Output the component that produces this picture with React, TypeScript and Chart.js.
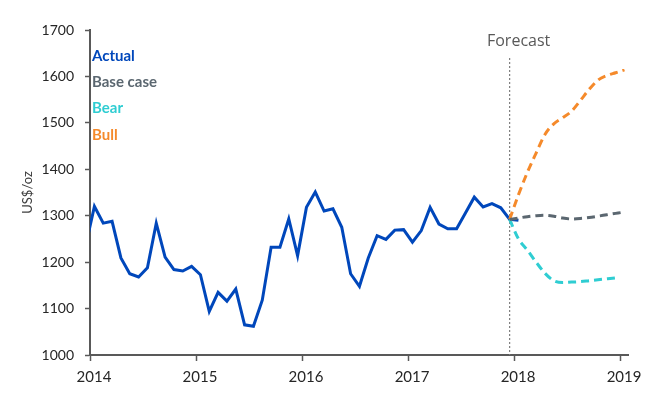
import { useEffect, useRef } from "react";
import { Chart, registerables } from "chart.js";

Chart.register(...registerables);

// Monthly gold price, plotted at mid-month. Series begins mid-December 2013.
const actualStart = 2013 + 11.5 / 12;
const actualValues = [
  1234,
  1320, 1284, 1288, 1209, 1175, 1168, 1188, 1284, 1211, 1184, 1181, 1191,
  1173, 1094, 1135, 1116, 1142, 1065, 1062, 1118, 1232, 1232, 1293, 1214,
  1318, 1351, 1310, 1315, 1275, 1175, 1148, 1209, 1257, 1249, 1269, 1270,
  1243, 1268, 1318, 1282, 1272, 1272, 1306, 1340, 1319, 1326, 1317, 1292,
  1290,
];

// Scenario paths start from the December 2017 value.
const forecastStart = 2017 + 11.5 / 12;
const baseCaseValues = [1292, 1295, 1298, 1300, 1301, 1299, 1295, 1293, 1294, 1296, 1299, 1302, 1305, 1308];
const bearValues = [1292, 1250, 1226, 1200, 1176, 1160, 1156, 1157, 1158, 1160, 1162, 1164, 1166];
const bullValues = [1292, 1345, 1393, 1435, 1475, 1498, 1511, 1525, 1548, 1572, 1592, 1602, 1608, 1614];

const yearTicks = [2014, 2015, 2016, 2017, 2018, 2019];
const seriesNames = ["Actual", "Base case", "Bear", "Bull"];
const seriesColors = ["#0047BB", "#5B6770", "#2FCDD2", "#F58A2B"];

const toPoints = (start: number, values: number[]) =>
  values.map((y, i) => ({ x: start + i / 12, y }));

const AXIS_COLOR = "#595959";
const TEXT_COLOR = "#262626";

const notesPlugin = {
  id: "forecastNotes",
  beforeDatasetsDraw(chart: any) {
    const { ctx, chartArea, scales } = chart;
    const x = scales.x.getPixelForValue(forecastStart);
    ctx.save();
    ctx.strokeStyle = "#7F7F7F";
    ctx.lineWidth = 1.2;
    ctx.setLineDash([2, 2]);
    ctx.beginPath();
    ctx.moveTo(x, chartArea.top + 28);
    ctx.lineTo(x, chartArea.bottom);
    ctx.stroke();
    ctx.restore();
  },
  afterDraw(chart: any) {
    const { ctx, chartArea, scales } = chart;
    const x = scales.x.getPixelForValue(forecastStart);
    ctx.save();
    ctx.fillStyle = "#595959";
    ctx.font = "16px 'Open Sans'";
    ctx.textAlign = "center";
    ctx.textBaseline = "middle";
    ctx.fillText("Forecast", x + 9, chartArea.top + 11);

    ctx.font = "bold 15px Lato";
    ctx.textAlign = "left";
    seriesNames.forEach((name, i) => {
      ctx.fillStyle = seriesColors[i];
      ctx.fillText(name, chartArea.left + 2, chartArea.top + 26 + i * 26.3);
    });
    ctx.restore();
  },
};

export default function App() {
  const canvasRef = useRef<HTMLCanvasElement | null>(null);

  useEffect(() => {
    const canvas = canvasRef.current;
    if (!canvas) return;

    const dashed = {
      borderWidth: 3,
      borderDash: [8, 5],
      pointRadius: 0,
      cubicInterpolationMode: "monotone" as const,
      clip: 0,
    };

    const chart = new Chart(canvas, {
      type: "line",
      data: {
        datasets: [
          {
            label: seriesNames[1],
            data: toPoints(forecastStart, baseCaseValues),
            borderColor: seriesColors[1],
            ...dashed,
          },
          {
            label: seriesNames[2],
            data: toPoints(forecastStart, bearValues),
            borderColor: seriesColors[2],
            ...dashed,
          },
          {
            label: seriesNames[3],
            data: toPoints(forecastStart, bullValues),
            borderColor: seriesColors[3],
            ...dashed,
          },
          {
            label: seriesNames[0],
            data: toPoints(actualStart, actualValues),
            borderColor: seriesColors[0],
            borderWidth: 3,
            pointRadius: 0,
            tension: 0,
            clip: 0,
          },
        ],
      },
      options: {
        responsive: false,
        animation: false,
        devicePixelRatio: 1,
        layout: { padding: { top: 30, right: 33, left: 0, bottom: 0 } },
        plugins: {
          legend: { display: false },
          tooltip: { enabled: false },
        },
        scales: {
          x: {
            type: "linear",
            min: 2014,
            max: 2019.075,
            afterBuildTicks: (scale: any) => {
              scale.ticks = yearTicks.map((value) => ({ value }));
            },
            afterFit: (scale: any) => {
              scale.height = 45;
            },
            ticks: {
              color: TEXT_COLOR,
              font: { family: "Lato", size: 15 },
              padding: 7,
              labelOffset: 4,
              maxRotation: 0,
              autoSkip: false,
              callback: (v: any) => String(v),
            },
            grid: {
              display: true,
              drawOnChartArea: false,
              drawTicks: true,
              tickLength: 6,
              tickColor: AXIS_COLOR,
              tickWidth: 1.5,
            },
            border: { display: true, color: AXIS_COLOR, width: 2 },
          },
          y: {
            type: "linear",
            min: 1000,
            max: 1700,
            afterFit: (scale: any) => {
              scale.width = 90;
            },
            ticks: {
              stepSize: 100,
              color: TEXT_COLOR,
              font: { family: "Lato", size: 14 },
              padding: 11,
              callback: (v: any) => String(v),
            },
            grid: {
              display: true,
              drawOnChartArea: false,
              drawTicks: true,
              tickLength: 5,
              tickColor: AXIS_COLOR,
              tickWidth: 1.5,
            },
            border: { display: true, color: AXIS_COLOR, width: 2 },
            title: {
              display: true,
              text: "US$/oz",
              color: "#404040",
              font: { family: "Lato", size: 13 },
              padding: { top: 20, bottom: 0 },
            },
          },
        },
      },
      plugins: [notesPlugin],
    });

    return () => chart.destroy();
  }, []);

  return (
    <div style={{ position: "absolute", left: 0, top: 0, width: 661, height: 400, background: "#fff" }}>
      <canvas ref={canvasRef} width={661} height={400} style={{ display: "block" }} />
    </div>
  );
}
